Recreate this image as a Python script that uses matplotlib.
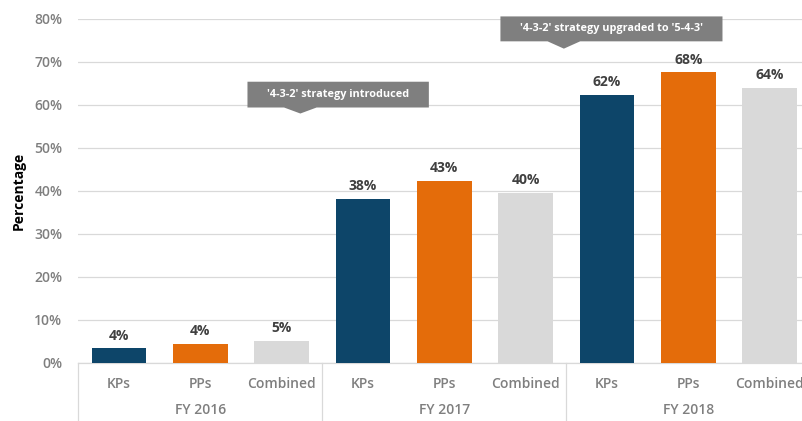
import matplotlib
matplotlib.use("Agg")
import matplotlib.pyplot as plt
from matplotlib.patches import Polygon
import matplotlib.transforms as mtransforms

plt.rcParams['font.family'] = ['Open Sans', 'DejaVu Sans']

categories = ["KPs", "PPs", "Combined"] * 3
groups = ["FY 2016", "FY 2017", "FY 2018"]
values = [3.4, 4.4, 5.1, 38.1, 42.4, 39.5, 62.4, 67.6, 64.0]
labels = ["4%", "4%", "5%", "38%", "43%", "40%", "62%", "68%", "64%"]
series_colors = ["#0D4569", "#E46C0A", "#D9D9D9"]
yticks = [0, 10, 20, 30, 40, 50, 60, 70, 80]
callouts = ["'4-3-2' strategy introduced", "'4-3-2' strategy upgraded to '5-4-3'"]

W, H = 803, 421
fig = plt.figure(figsize=(W / 100, H / 100), dpi=100)
ax_left, ax_bottom, ax_top = 78.3, 362.7, 19.0
ax = fig.add_axes([ax_left / W, (H - ax_bottom) / H, 1 - ax_left / W, (ax_bottom - ax_top) / H])

x = list(range(len(values)))
colors = [series_colors[i % 3] for i in x]
bars = ax.bar(x, values, width=0.67, color=colors, zorder=3)
for xi, v, lab in zip(x, values, labels):
    ax.text(xi, v + 1.3, lab, ha="center", va="bottom", fontsize=10, fontweight="bold", color="#404040", zorder=4)

ax.set_xlim(-0.5, 8.41)
ax.set_ylim(0, 80)
ax.set_yticks(yticks)
ax.set_yticklabels([f"{t}%" for t in yticks], fontsize=10, color="#7F7F7F", fontweight="semibold")
ax.yaxis.grid(True, color="#D9D9D9", lw=0.9, zorder=0)
ax.set_axisbelow(True)
ax.tick_params(axis="y", length=0, pad=11.5)
ax.tick_params(axis="x", length=0, pad=10)
ax.set_xticks(x)
ax.set_xticklabels(categories, fontsize=10, color="#7F7F7F", fontweight="semibold")
for s in ["top", "right", "left"]:
    ax.spines[s].set_visible(False)
ax.spines["bottom"].set_color("#D9D9D9")
ax.spines["bottom"].set_linewidth(0.9)

ax.set_ylabel("Percentage", fontsize=10, fontweight="bold", color="black", labelpad=6)

# group separators and labels
trans = mtransforms.blended_transform_factory(ax.transData, ax.transAxes)
axh = ax_bottom - ax_top
ybot = -(H - ax_bottom) / axh
for sep in [-0.5, 2.5, 5.5, 8.5]:
    ax.plot([sep, sep], [0, ybot], transform=trans, color="#D9D9D9", lw=0.9, clip_on=False)
for gi, g in enumerate(groups):
    ax.text(gi * 3 + 1, -(410 - ax_bottom) / axh, g, transform=trans, ha="center", va="center",
            fontsize=10, color="#7F7F7F", fontweight="semibold")

# callouts
def callout(x0, x1, y0, y1, ax_x, tip_y, text):
    pts = [(x0, y0), (x1, y0), (x1, y1), (ax_x + 0.2, y1), (ax_x, tip_y), (ax_x - 0.2, y1), (x0, y1)]
    poly = Polygon(pts, closed=True, facecolor="#7F7F7F", edgecolor="none", clip_on=False, zorder=5)
    ax.add_patch(poly)
    ax.text((x0 + x1) / 2, (y0 + y1) / 2, text, ha="center", va="center", color="white",
            fontsize=7.8, fontweight="bold", zorder=6, clip_on=False)

callout(1.58, 3.81, 65.4, 59.4, 2.23, 58.0, callouts[0])
callout(4.69, 7.42, 80.6, 74.8, 5.47, 73.1, callouts[1])

fig.savefig("out.png", dpi=100)
